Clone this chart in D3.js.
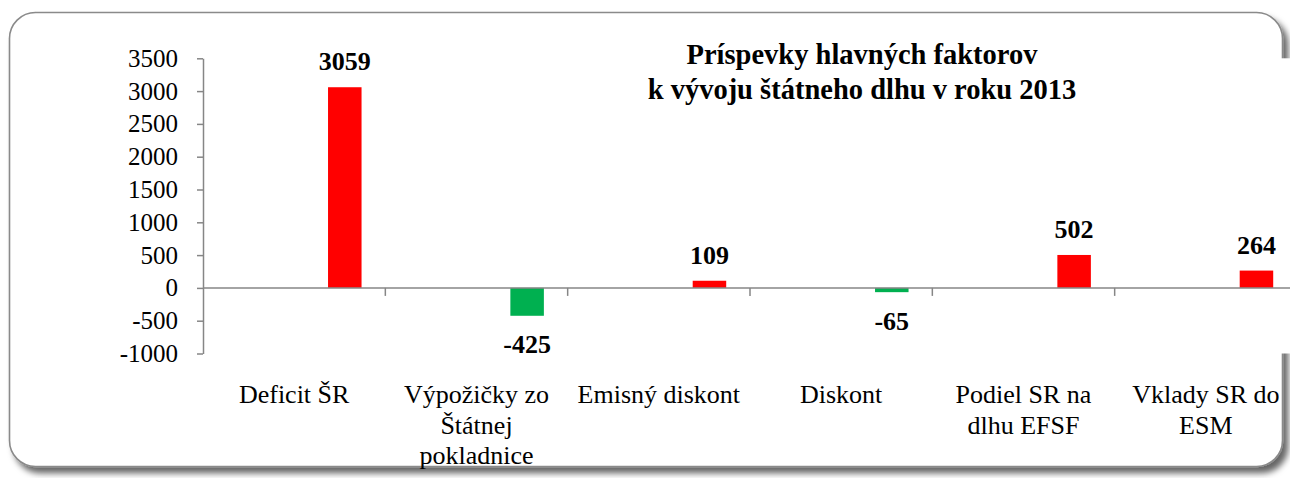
<!DOCTYPE html>
<html>
<head>
<meta charset="utf-8">
<script src="https://cdn.jsdelivr.net/npm/d3@7"></script>
<style>
  body { margin: 0; background: #fff; }
  svg text { font-family: "Liberation Serif", "LiberationSerif", "Tinos", "DejaVu Serif", "Times New Roman", serif; fill: #000; }
</style>
</head>
<body>
<div id="chart"></div>
<script>
// chart data
const categories = ["Deficit ŠR", "Výpožičky zo Štátnej pokladnice", "Emisný diskont", "Diskont", "Podiel SR na dlhu EFSF", "Vklady SR do ESM"];
const categoryLines = [["Deficit ŠR"], ["Výpožičky zo", "Štátnej", "pokladnice"], ["Emisný diskont"], ["Diskont"], ["Podiel SR na", "dlhu EFSF"], ["Vklady SR do", "ESM"]];
const values2013 = [3059, -425, 109, -65, 502, 264];
const yTicks = [-1000, -500, 0, 500, 1000, 1500, 2000, 2500, 3000, 3500];
const titleLines = ["Príspevky hlavných faktorov", "k vývoju štátneho dlhu v roku 2013"];
// the source chart had an empty first series, the values sit in the second slot
const seriesSlots = ["empty", "2013"];

const W = 1290, H = 478;
const plot = {left: 203, right: 1297, top: 58.3, bottom: 353.5};
const serif = "'Liberation Serif', 'LiberationSerif', Tinos, 'DejaVu Serif', 'Times New Roman', serif";

const svg = d3.select("#chart").append("svg")
    .attr("width", W)
    .attr("height", H);

// frame shadow
const defs = svg.append("defs");
const f = defs.append("filter").attr("id", "shadow")
    .attr("x", "-5%").attr("y", "-5%").attr("width", "110%").attr("height", "120%");
f.append("feDropShadow")
    .attr("dx", 5).attr("dy", 6)
    .attr("stdDeviation", 3)
    .attr("flood-color", "#000")
    .attr("flood-opacity", 0.6);

svg.append("rect")
    .attr("x", 9.5).attr("y", 12.5)
    .attr("width", 1273).attr("height", 454)
    .attr("rx", 26).attr("ry", 26)
    .attr("fill", "#fff")
    .attr("stroke", "#8a8a8a")
    .attr("stroke-width", 1.6)
    .attr("filter", "url(#shadow)");

// plot area (white, sits over the frame on the right)
svg.append("rect")
    .attr("x", plot.left).attr("y", plot.top)
    .attr("width", plot.right - plot.left)
    .attr("height", plot.bottom - plot.top)
    .attr("fill", "#fff");

// scales
const x = d3.scaleBand()
    .domain(categories)
    .range([plot.left, plot.right])
    .padding(0);

const xs = d3.scaleBand()
    .domain(seriesSlots)
    .range([0, x.bandwidth()])
    .paddingInner(0.669)
    .paddingOuter(0.235);

const y = d3.scaleLinear()
    .domain([-1000, 3500])
    .range([plot.bottom, plot.top]);

const axisColor = "#868686";

// y axis
const yAxis = svg.append("g")
    .attr("transform", "translate(" + plot.left + ",0)")
    .call(d3.axisLeft(y).tickValues(yTicks).tickFormat(d => String(d))
        .tickSize(6).tickSizeOuter(0).tickPadding(19));
yAxis.select(".domain").attr("stroke", axisColor).attr("stroke-width", 1.5);
yAxis.selectAll(".tick line").attr("stroke", axisColor).attr("stroke-width", 1.5);
yAxis.attr("font-family", null).attr("font-size", null);
yAxis.selectAll(".tick text")
    .style("font-family", serif)
    .style("font-size", "25px")
    .attr("fill", "#000");

// bars
const data = categories.map((c, i) => ({cat: c, value: values2013[i]}));

svg.append("g").selectAll("rect")
    .data(data)
    .enter()
    .append("rect")
    .attr("x", d => x(d.cat) + xs("2013"))
    .attr("width", xs.bandwidth())
    .attr("y", d => y(Math.max(0, d.value)))
    .attr("height", d => Math.abs(y(d.value) - y(0)))
    .attr("fill", d => d.value >= 0 ? "#ff0000" : "#00b050");

// x axis at zero
const xAxis = svg.append("g");
xAxis.append("line")
    .attr("x1", plot.left).attr("x2", plot.right)
    .attr("y1", y(0)).attr("y2", y(0))
    .attr("stroke", axisColor).attr("stroke-width", 1.5);
xAxis.selectAll("line.tk")
    .data(categories.slice(1))
    .enter()
    .append("line")
    .attr("class", "tk")
    .attr("x1", d => x(d)).attr("x2", d => x(d))
    .attr("y1", y(0)).attr("y2", y(0) + 8)
    .attr("stroke", axisColor).attr("stroke-width", 1.5);

// value labels
svg.append("g").selectAll("text")
    .data(data)
    .enter()
    .append("text")
    .attr("x", d => x(d.cat) + xs("2013") + xs.bandwidth() / 2)
    .attr("y", d => d.value >= 0 ? y(d.value) - 17 : y(d.value) + 37.5)
    .attr("text-anchor", "middle")
    .style("font-family", serif)
    .style("font-size", "26px")
    .style("font-weight", "bold")
    .text(d => d.value);

// category labels (low position)
const catG = svg.append("g").selectAll("text")
    .data(categories)
    .enter()
    .append("text")
    .attr("text-anchor", "middle")
    .style("font-family", serif)
    .style("font-size", "26px")
    .attr("x", d => x(d) + x.bandwidth() / 2)
    .attr("y", 403);
catG.selectAll("tspan")
    .data((d, i) => categoryLines[i])
    .enter()
    .append("tspan")
    .attr("x", function () { return d3.select(this.parentNode).attr("x"); })
    .attr("dy", (d, i) => i === 0 ? 0 : 30.5)
    .text(d => d);

// title
svg.append("g").selectAll("text")
    .data(titleLines)
    .enter()
    .append("text")
    .attr("x", 862)
    .attr("y", (d, i) => 64 + i * 35)
    .attr("text-anchor", "middle")
    .style("font-family", serif)
    .style("font-size", "28.5px")
    .style("font-weight", "bold")
    .text(d => d);
</script>
</body>
</html>
